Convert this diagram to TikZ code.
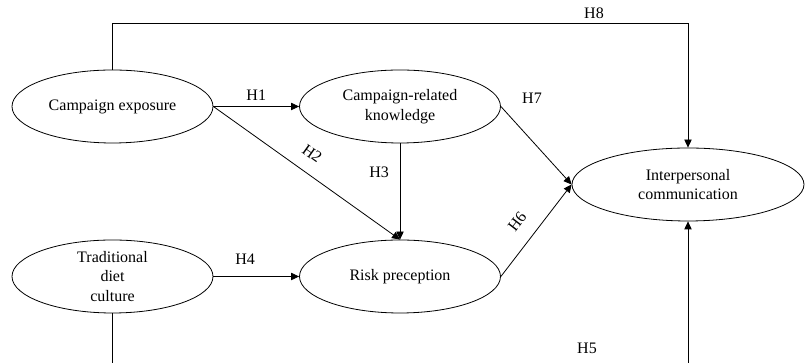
\documentclass[tikz,border=0pt]{standalone}
\usepackage{fontspec}
\setmainfont{Liberation Serif}
\usepackage{tikz}
\usetikzlibrary{shapes.geometric, arrows.meta, positioning}

\tikzset{
  construct/.style={draw, ellipse, line width=0.6pt, inner sep=0pt,
    minimum width=150.75pt, minimum height=54.75pt, align=center,
    font=\fontsize{12}{14.6}\selectfont},
  link/.style={draw, line width=0.6pt, -{Triangle[length=6pt, width=5.5pt]}},
  hlabel/.style={inner sep=0pt, font=\fontsize{12}{14}\selectfont}
}

\begin{document}
\begin{tikzpicture}[x=0.75pt, y=0.75pt]
  % frame: one unit = one pixel of the 808 x 363 figure
  \useasboundingbox (0,0) rectangle (808,363);
  \clip (0,0) rectangle (808,363);

  % constructs
  \node[construct] (exposure)  at (112.5,256.5) {Campaign exposure};
  \node[construct] (knowledge) at (400,256.5)   {Campaign-related\\knowledge};
  \node[construct] (culture)   at (112.5,86.5)  {Traditional\\diet\\culture};
  \node[construct] (risk)      at (400,86.5)    {Risk preception};
  \node[construct, minimum width=174pt] (comm) at (688,178.5) {Interpersonal\\communication};

  % corners of the two long paths
  \coordinate (topcorner) at (688,340);
  \coordinate (bottomcorner) at (688,-20);

  % hypotheses
  \draw[link] (exposure.east) -- node[hlabel, midway, above=4pt] (h1) {H1} (knowledge.west);
  \draw[link] (exposure.east) -- node[hlabel, pos=0.47, sloped, above=10pt] (h2) {H2} (risk.north);
  \draw[link] (knowledge.south) -- node[hlabel, pos=0.3, left=8pt] (h3) {H3} (risk.north);
  \draw[link] (culture.east) -- node[hlabel, pos=0.37, above=9pt] (h4) {H4} (risk.west);
  \draw[link] (culture.south) |- (bottomcorner) -- (comm.south);
  \node[hlabel] (h5) at (587,15) {H5};
  \draw[link] (risk.east) -- node[hlabel, pos=0.46, sloped, above=11pt] (h6) {H6} (comm.west);
  \draw[link] (knowledge.east) -- (comm.west);
  \node[hlabel] (h7) at (532,265) {H7};
  \draw[link] (exposure.north) |- (topcorner) -- node[hlabel, pos=0, above=3pt, xshift=-70.5pt] (h8) {H8} (comm.north);
\end{tikzpicture}
\end{document}
